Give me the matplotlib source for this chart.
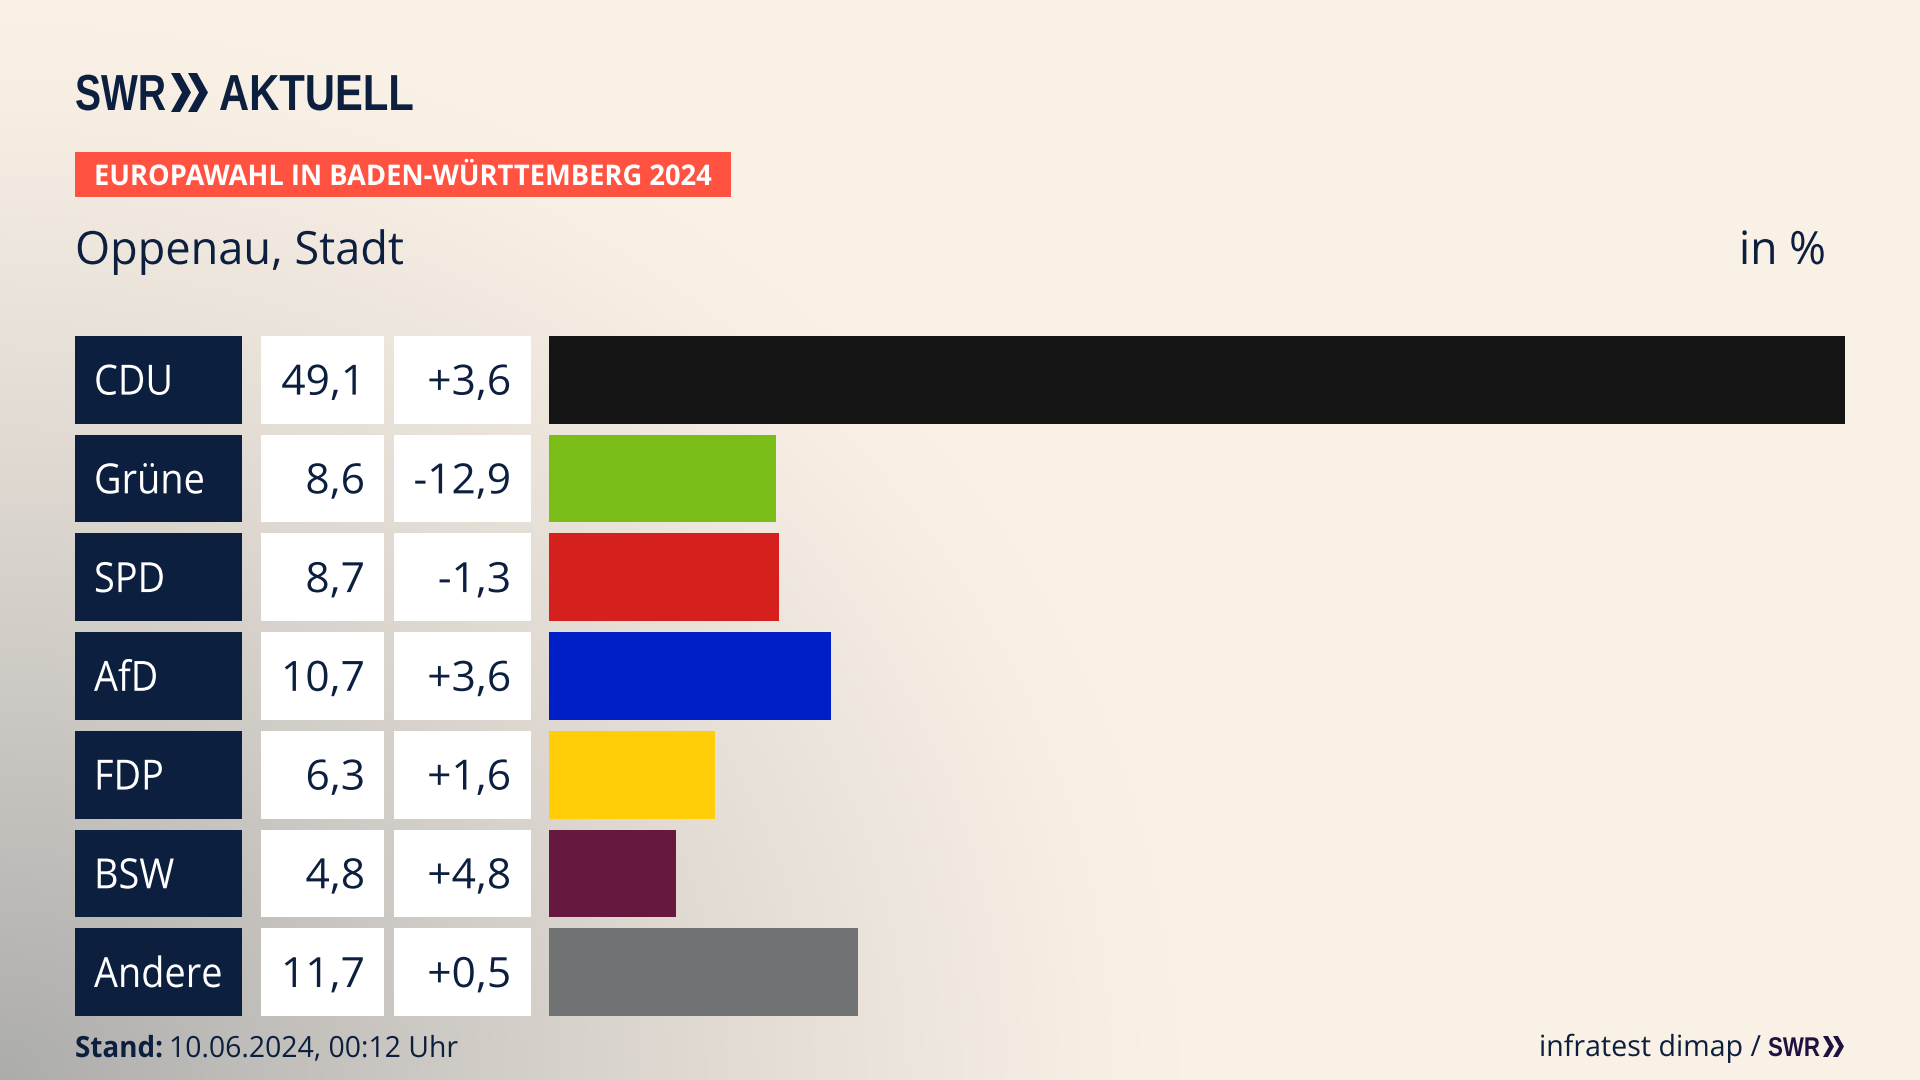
import numpy as np
import matplotlib
matplotlib.use("Agg")
import matplotlib.pyplot as plt
from matplotlib.patches import Rectangle, Polygon
from matplotlib.patheffects import AbstractPathEffect
from matplotlib.transforms import Affine2D, blended_transform_factory

parties = ["CDU", "Grüne", "SPD", "AfD", "FDP", "BSW", "Andere"]
shares = [49.1, 8.6, 8.7, 10.7, 6.3, 4.8, 11.7]
changes = ["+3,6", "-12,9", "-1,3", "+3,6", "+1,6", "+4,8", "+0,5"]
colors = ["#141414", "#7ABD19", "#D6201D", "#001FC6", "#FFCE08", "#66183E", "#707274"]

NAVY = "#0C1F3F"
FONT = "Open Sans"
LOGO = "Liberation Sans"
W, H = 1920, 1080


class Condense(AbstractPathEffect):
    """Narrow a text horizontally, keeping its left or right edge in place."""

    def __init__(self, k, right=False):
        super().__init__()
        self.k, self.right = k, right

    def draw_path(self, renderer, gc, tpath, affine, rgbFace=None):
        shift = (1 - self.k) * tpath.get_extents().x1 if self.right else 0
        renderer.draw_path(gc, tpath, Affine2D().scale(self.k, 1).translate(shift, 0) + affine, rgbFace)


fig = plt.figure(figsize=(19.2, 10.8), dpi=100)

bg = fig.add_axes([0, 0, 1, 1], zorder=0)
bg.axis("off")
yy, xx = np.mgrid[0:H, 0:W]
t = np.clip(1 - np.sqrt((xx / 1180) ** 2 + ((H - yy) / 1060) ** 2), 0, 1) ** 1.2
cream = np.array([250, 241, 230]) / 255
grey = np.array([172, 172, 171]) / 255
img = cream + (grey - cream) * t[..., None]
bg.imshow(img, extent=(0, W, H, 0), aspect="auto", interpolation="bilinear")
bg.set_xlim(0, W)
bg.set_ylim(H, 0)

top, bottom, left, right = 336, 1016, 549, 1845
ax = fig.add_axes([left / W, 1 - bottom / H, (right - left) / W, (bottom - top) / H], zorder=1)
ax.patch.set_alpha(0)
ax.axis("off")
BAR_H = 0.887
y = np.arange(len(parties))
ax.barh(y, shares, height=BAR_H, color=colors)
ax.set_xlim(0, max(shares))
ax.set_ylim(len(parties) - 1 + BAR_H / 2, -BAR_H / 2)

tr = blended_transform_factory(bg.transData, ax.transData)
for i, (p, s, c) in enumerate(zip(parties, shares, changes)):
    for x0, x1, col in [(75, 242, NAVY), (261, 384, "white"), (394, 531, "white")]:
        bg.add_patch(Rectangle((x0, i - BAR_H / 2), x1 - x0, BAR_H, transform=tr, color=col, lw=0, zorder=2))
    kw = dict(transform=tr, va="center_baseline", fontsize=30, family=FONT, zorder=3)
    bg.text(94, i - 0.012, p, color="white", ha="left", path_effects=[Condense(0.91)], **kw)
    bg.text(365, i - 0.012, f"{s:.1f}".replace(".", ","), color=NAVY, ha="right", path_effects=[Condense(1.02, True)], **kw)
    bg.text(511, i - 0.012, c, color=NAVY, ha="right", path_effects=[Condense(1.02, True)], **kw)


def put(x, y, s, width, **kw):
    """Place real text so that it spans the given pixel width."""
    right = kw.get("ha") == "right"
    txt = bg.text(x, y, s, va="baseline", zorder=3, **kw)
    w = txt.get_window_extent(fig.canvas.get_renderer()).width
    txt.set_path_effects([Condense(width / w, right)])
    return txt


def chevrons(x0, y0, y1, w, step, col):
    for k in range(2):
        x = x0 + k * step
        m = (y0 + y1) / 2
        bg.add_patch(Polygon([(x, y0), (x + w * 0.45, y0), (x + w, m), (x + w * 0.45, y1), (x, y1), (x + w * 0.55, m)],
                             closed=True, color=col, lw=0, zorder=3))


put(75, 110, "SWR", 91, family=LOGO, weight="bold", fontsize=36.5, color=NAVY)
put(219, 110, "AKTUELL", 195, family=LOGO, weight="bold", fontsize=36.5, color=NAVY)
chevrons(171, 73, 112, 20, 17, NAVY)

bg.add_patch(Rectangle((75, 152), 656, 45, color="#FF5240", lw=0, zorder=2))
put(94, 185, "EUROPAWAHL IN BADEN-WÜRTTEMBERG 2024", 617, family=FONT, weight="bold", fontsize=20.5, color="white")
put(75, 264, "Oppenau, Stadt", 329, family=FONT, fontsize=33, color=NAVY)
put(1826, 264, "in %", 87, family=FONT, fontsize=33, color=NAVY, ha="right")

put(75, 1057, "Stand:", 88, family=FONT, weight="bold", fontsize=21, color=NAVY)
put(169, 1057, "10.06.2024, 00:12 Uhr", 289, family=FONT, fontsize=21, color=NAVY)
put(1761, 1056, "infratest dimap /", 222, family=FONT, fontsize=21, color=NAVY, ha="right")
put(1768, 1056, "SWR", 52, family=LOGO, weight="bold", fontsize=19.5, color="#1F1140")
chevrons(1823, 1036, 1057, 11, 10, "#1F1140")

fig.savefig("out.png", dpi=100)
